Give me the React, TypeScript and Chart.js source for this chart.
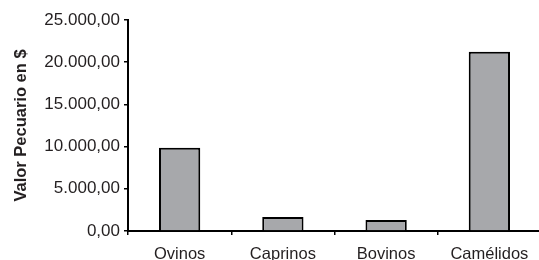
import React, { useEffect, useRef } from "react";
import { Chart, registerables } from "chart.js";

Chart.register(...registerables);

const categories = ["Ovinos", "Caprinos", "Bovinos", "Camélidos"];
const values = [9850, 1650, 1300, 21250];
const yTickValues = [0, 5000, 10000, 15000, 20000, 25000];
const yAxisTitle = "Valor Pecuario en $";

function formatEs(v: number): string {
  const fixed = Math.abs(v).toFixed(2);
  const [intPart, dec] = fixed.split(".");
  const withDots = intPart.replace(/\B(?=(\d{3})+(?!\d))/g, ".");
  return (v < 0 ? "-" : "") + withDots + "," + dec;
}

const FONT = "'Liberation Sans', Arial, Helvetica, sans-serif";
const TEXT = "#231f20";

export default function App() {
  const ref = useRef<HTMLCanvasElement>(null);

  useEffect(() => {
    const chart = new Chart(ref.current as HTMLCanvasElement, {
      type: "bar",
      data: {
        labels: categories,
        datasets: [
          {
            data: values,
            backgroundColor: "#a7a8ab",
            borderColor: "#000000",
            borderWidth: 2,
            barPercentage: 0.4,
            categoryPercentage: 1,
          },
        ],
      },
      options: {
        animation: false,
        responsive: false,
        layout: { padding: { top: 20, left: 0, right: 0, bottom: 0 } },
        plugins: { legend: { display: false }, tooltip: { enabled: false } },
        scales: {
          x: {
            offset: true,
            grid: {
              display: true,
              drawOnChartArea: false,
              drawTicks: true,
              tickLength: 4,
              color: "#000000",
              lineWidth: 1.5,
              offset: true,
            },
            border: { display: true, color: "#000000", width: 2 },
            ticks: {
              color: TEXT,
              font: { family: FONT, size: 16.5 },
              padding: 9.5,
              maxRotation: 0,
              autoSkip: false,
            },
            afterFit: (s: any) => {
              s.height = 29;
            },
          },
          y: {
            min: 0,
            max: 25000,
            afterBuildTicks: (s: any) => {
              s.ticks = yTickValues.map((v) => ({ value: v }));
            },
            grid: {
              display: true,
              drawOnChartArea: false,
              drawTicks: true,
              tickLength: 4,
              color: "#000000",
              lineWidth: 1.5,
            },
            border: { display: true, color: "#000000", width: 2 },
            ticks: {
              color: TEXT,
              font: { family: FONT, size: 17 },
              padding: 4,
              callback: (v: any) => formatEs(Number(v)),
            },
            title: {
              display: true,
              text: yAxisTitle,
              color: TEXT,
              font: { family: FONT, size: 16.5, weight: "bold" },
              padding: { top: 12, bottom: 0 },
            },
            afterFit: (s: any) => {
              s.width = 128;
            },
          },
        },
      },
    } as any);
    return () => chart.destroy();
  }, []);

  return (
    <div
      style={{
        position: "fixed",
        left: 0,
        top: 0,
        width: 539,
        height: 260,
        overflow: "hidden",
        background: "#ffffff",
      }}
    >
      <canvas ref={ref} width={541} height={260} style={{ display: "block" }} />
    </div>
  );
}
